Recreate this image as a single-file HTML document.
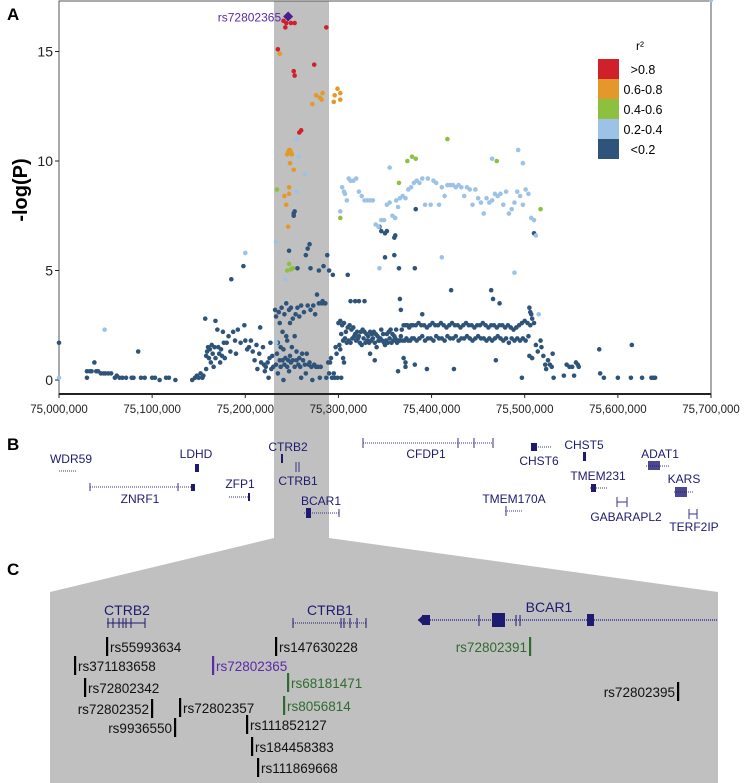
<!DOCTYPE html>
<html><head><meta charset="utf-8"><style>
html,body{margin:0;padding:0;background:#fff;}
svg{display:block;font-family:"Liberation Sans",Arial,sans-serif;}
</style></head><body>
<svg id="fig" width="744" height="783" viewBox="0 0 744 783">
  <polygon points="274,1 329,1 329,538 718,592 718,783 50,783 50,592 274,538" fill="#c0c0c0"/>
  <g id="plotA"></g>
  <text x="7" y="20" font-size="17" font-weight="bold">A</text>
  <text x="7" y="450" font-size="17" font-weight="bold">B</text>
  <text x="7" y="575" font-size="17" font-weight="bold">C</text>
  <text transform="translate(27,190) rotate(-90)" text-anchor="middle" font-size="20" font-weight="bold">-log(P)</text>

  <g font-size="12.5">
    <text x="640" y="50" text-anchor="middle" font-size="12">r²</text>
    <rect x="598" y="59" width="21" height="20" fill="#d0202a"/>
    <rect x="598" y="79" width="21" height="20" fill="#e4982a"/>
    <rect x="598" y="99" width="21" height="20" fill="#8dc03f"/>
    <rect x="598" y="119" width="21" height="20" fill="#9cc3e6"/>
    <rect x="598" y="139" width="21" height="20" fill="#2f5479"/>
    <text x="643" y="74" text-anchor="middle">&gt;0.8</text>
    <text x="643" y="94" text-anchor="middle">0.6-0.8</text>
    <text x="643" y="114" text-anchor="middle">0.4-0.6</text>
    <text x="643" y="134" text-anchor="middle">0.2-0.4</text>
    <text x="643" y="154" text-anchor="middle">&lt;0.2</text>
  </g>

  <g fill="#1e1a70" stroke="#3a358a" font-size="12">
    <g><line x1="59" y1="471" x2="76" y2="471" stroke-dasharray="1,1"/><text x="71" y="463" text-anchor="middle" stroke="none">WDR59</text></g>
    <g><rect x="195" y="464" width="4" height="8" stroke="none"/><text x="196" y="458" text-anchor="middle" stroke="none">LDHD</text></g>
    <g><line x1="90" y1="487" x2="194" y2="487" stroke-dasharray="1,1"/><line x1="90" y1="483" x2="90" y2="491"/><line x1="178" y1="483" x2="178" y2="491"/><rect x="191" y="484" width="4" height="7" stroke="none"/><text x="140" y="503" text-anchor="middle" stroke="none">ZNRF1</text></g>
    <g><line x1="229" y1="497" x2="250" y2="497" stroke-dasharray="1,1"/><rect x="248" y="493" width="2" height="8" stroke="none"/><text x="240" y="488" text-anchor="middle" stroke="none">ZFP1</text></g>
    <g><rect x="281" y="454" width="2" height="9" stroke="none"/><text x="288" y="451" text-anchor="middle" stroke="none">CTRB2</text></g>
    <g><line x1="296" y1="462" x2="296" y2="472"/><line x1="299" y1="462" x2="299" y2="472"/><text x="298" y="485" text-anchor="middle" stroke="none">CTRB1</text></g>
    <g><line x1="304" y1="513" x2="339" y2="513" stroke-dasharray="1,1"/><rect x="306" y="508" width="5" height="10" stroke="none"/><line x1="339" y1="509" x2="339" y2="517"/><text x="321" y="505" text-anchor="middle" stroke="none">BCAR1</text></g>
    <g><line x1="363" y1="443" x2="493" y2="443" stroke-dasharray="1,1"/><line x1="363" y1="438" x2="363" y2="448"/><line x1="458" y1="438" x2="458" y2="448"/><line x1="474" y1="438" x2="474" y2="448"/><line x1="493" y1="438" x2="493" y2="448"/><text x="426" y="458" text-anchor="middle" stroke="none">CFDP1</text></g>
    <g><line x1="532" y1="447" x2="551" y2="447" stroke-dasharray="1,1"/><rect x="531" y="443" width="6" height="8" stroke="none"/><text x="539" y="465" text-anchor="middle" stroke="none">CHST6</text></g>
    <g><rect x="583" y="452" width="3" height="9" stroke="none"/><text x="584" y="449" text-anchor="middle" stroke="none">CHST5</text></g>
    <g><line x1="646" y1="466" x2="670" y2="466" stroke-dasharray="1,1"/><rect x="648" y="461" width="12" height="9" stroke="none" opacity="0.8"/><text x="660" y="458" text-anchor="middle" stroke="none">ADAT1</text></g>
    <g><line x1="590" y1="488" x2="607" y2="488" stroke-dasharray="1,1"/><rect x="591" y="484" width="5" height="8" stroke="none"/><text x="598" y="480" text-anchor="middle" stroke="none">TMEM231</text></g>
    <g><line x1="674" y1="492" x2="693" y2="492" stroke-dasharray="1,1"/><rect x="675" y="487" width="12" height="10" stroke="none" opacity="0.8"/><text x="684" y="483" text-anchor="middle" stroke="none">KARS</text></g>
    <g><line x1="505" y1="511" x2="523" y2="511" stroke-dasharray="1,1"/><line x1="506" y1="506" x2="506" y2="516"/><text x="514" y="503" text-anchor="middle" stroke="none">TMEM170A</text></g>
    <g><line x1="617" y1="502" x2="627" y2="502"/><line x1="617" y1="497" x2="617" y2="507"/><line x1="627" y1="497" x2="627" y2="507"/><text x="626" y="521" text-anchor="middle" stroke="none">GABARAPL2</text></g>
    <g><line x1="689" y1="514" x2="697" y2="514"/><line x1="689" y1="509" x2="689" y2="519"/><line x1="697" y1="509" x2="697" y2="519"/><text x="694" y="531" text-anchor="middle" stroke="none">TERF2IP</text></g>
  </g>

  <g fill="#1e1a70" stroke="#1e1a70">
    <g><text x="127" y="615" font-size="14" text-anchor="middle" stroke="none">CTRB2</text><line x1="107" y1="623" x2="145" y2="623" stroke-width="1"/>
      <line x1="108" y1="618" x2="108" y2="628"/><line x1="113" y1="618" x2="113" y2="628"/><line x1="119" y1="618" x2="119" y2="628"/><line x1="123" y1="618" x2="123" y2="628"/><line x1="126" y1="618" x2="126" y2="628"/><line x1="131" y1="618" x2="131" y2="628"/><line x1="145" y1="618" x2="145" y2="628"/></g>
    <g><text x="330" y="615" font-size="14" text-anchor="middle" stroke="none">CTRB1</text><line x1="293" y1="623" x2="366" y2="623" stroke-dasharray="1,1"/>
      <line x1="293" y1="618" x2="293" y2="628"/><line x1="341" y1="618" x2="341" y2="628"/><line x1="344" y1="618" x2="344" y2="628"/><line x1="350" y1="618" x2="350" y2="628"/><line x1="357" y1="618" x2="357" y2="628"/><line x1="366" y1="618" x2="366" y2="628"/></g>
    <g><text x="549" y="612" font-size="14" text-anchor="middle" stroke="none">BCAR1</text><line x1="418" y1="620" x2="718" y2="620" stroke="#5a56a0" stroke-dasharray="1,1" stroke-width="2"/>
      <rect x="422" y="615" width="8" height="10" stroke="none"/><polygon points="418,620 423,615 423,625" stroke="none"/><line x1="479" y1="615" x2="479" y2="626"/><rect x="492" y="613" width="13" height="14" stroke="none"/><line x1="516" y1="615" x2="516" y2="626"/><line x1="520" y1="615" x2="520" y2="626"/><rect x="587" y="614" width="7" height="12" stroke="none"/></g>
  </g>
  <g id="snps" font-size="14"></g>
</svg>
<script>
const xTicks = [0,100,200,300,400,500,600,700];
const xTickLabels = ["75,000,000","75,100,000","75,200,000","75,300,000","75,400,000","75,500,000","75,600,000","75,700,000"];
const yTicks = [0,5,10,15];
const leadPos = [246];
const leadVal = [16.6];
const redPos = [241,244,249,253,243,287,235,274,252,253,260,258];
const redVal = [16.4,16.3,16.3,16.3,16.1,16.1,15.1,14.4,14.1,13.9,11.4,11.3];
const orangePos = [237,276,280,282,283,272,296,299,302,295,302,245,246,247,248,249,250,248,252,247,242,247,244,246];
const orangeVal = [14.9,13.0,12.9,12.8,13.1,12.6,13.0,13.3,13.1,12.7,12.8,10.3,10.4,10.5,10.5,10.4,10.3,9.9,9.6,8.8,8.4,8.5,8.0,7.0];
const greenPos = [417,379,374,383,470,365,234,302,517,247,245,251,249];
const greenVal = [11.0,10.2,10.0,10.1,10.0,9.0,8.7,7.4,7.8,5.3,5.0,5.1,5.05];
const lightPos = [255,257,264,255,233,243,200,49,493,498,465,355,302,304,306,307,309,311,313,316,319,322,325,328,331,334,337,340,343,346,349,352,355,358,361,362,364,366,369,372,375,378,381,384,387,390,393,396,399,402,405,408,411,414,417,420,423,426,429,432,435,438,441,444,447,450,453,456,459,462,465,468,471,474,477,480,483,486,489,492,495,498,501,504,507,510,512,411,344,489,515,233,0,700];
const lightVal = [11.0,10.2,9.4,8.6,6.3,4.6,5.8,2.3,10.5,9.9,10.1,9.7,7.7,8.8,8.6,8.5,8.2,9.2,9.1,9.1,9.2,8.6,8.4,8.2,8.2,8.2,8.2,7.1,7.0,7.3,7.3,8.0,8.1,7.5,7.4,8.2,7.9,8.3,8.4,8.3,8.7,8.8,9.0,9.1,9.0,9.2,8.0,9.2,8.0,9.1,9.0,8.0,8.8,8.4,8.9,8.9,8.9,8.8,8.9,8.8,8.4,8.8,8.7,8.0,8.7,8.3,8.1,7.6,8.3,8.1,8.2,8.5,8.4,8.5,8.0,8.6,7.6,7.8,8.1,8.6,8.4,8.0,8.7,8.5,7.4,7.3,6.6,5.6,5.1,4.9,3.0,1.7,0.1];
const darkPos = [0,30,30,33,35,38,40,42,45,48,50,53,56,60,62,65,68,72,78,80,85,88,92,100,103,108,115,118,125,143,146,148,150,152,154,155,157,158,158,159,160,161,162,163,164,165,166,167,168,168,170,171,172,173,174,175,176,177,178,180,182,184,185,187,189,190,192,195,198,199,200,202,204,206,208,210,212,213,215,216,217,219,220,221,222,224,225,226,227,228,229,230,
232,233,233,234,235,235,236,237,237,238,238,239,240,240,241,241,242,242,243,244,244,245,245,246,247,247,247,248,248,249,249,250,251,251,252,252,253,253,253,254,255,255,256,256,257,258,258,259,260,260,261,262,263,264,265,265,266,267,267,268,269,269,270,270,271,272,273,274,275,276,277,278,279,279,280,281,282,283,284,285,286,287,288,289,290,290,291,292,293,294,295,296,297,298,299,
300,302,304,306,308,310,312,314,316,318,320,322,324,326,328,330,332,334,336,338,340,342,344,346,348,350,352,354,356,358,360,362,364,366,368,370,372,374,376,378,
301,303,305,307,309,311,313,315,317,319,321,323,325,327,329,331,333,335,337,339,341,343,345,347,349,351,353,355,357,359,361,363,365,367,369,371,373,375,377,379,
380,383,386,389,392,395,398,401,404,407,410,413,416,419,422,425,428,431,434,437,440,443,446,449,452,455,458,461,464,467,470,473,476,479,482,485,488,491,494,497,500,503,506,
381,384,387,390,393,396,399,402,405,408,411,414,417,420,423,426,429,432,435,438,441,444,447,450,453,456,459,462,465,468,471,474,477,480,483,486,489,492,495,498,501,504,
302,305,306,303,310,313,318,322,328,334,339,344,346,350,352,360,350,360,365,366,367,370,372,372,364,382,390,395,421,424,464,466,473,469,497,505,506,507,508,510,512,514,505,508,510,383,382,361,517,518,520,522,523,525,527,529,530,531,542,545,548,551,553,555,557,558,580,581,585,600,614,615,626,636,638,640];
const darkVal = [1.7,0.1,0.4,0.4,0.4,0.8,0.4,0.4,0.3,0.3,0.3,0.3,0.3,0.1,0.2,0.1,0.1,0.1,0.1,0.1,1.3,0.1,0.1,0.1,0.1,0.0,0.1,0.1,0.0,0.0,0.1,0.2,0.1,0.3,0.1,0.2,2.8,0.5,1.1,1.3,1.5,1.0,1.4,0.8,1.6,1.2,0.6,1.5,1.0,2.7,2.3,1.5,1.2,0.8,1.4,1.1,2.2,1.7,1.0,1.7,2.0,1.3,4.6,2.2,1.8,1.2,2.3,1.7,5.2,2.5,1.8,1.4,1.5,1.8,1.3,0.9,1.6,0.5,1.2,2.4,0.8,1.5,0.7,0.4,0.6,0.8,0.1,1.0,1.7,0.5,1.1,0.6,
3.2,2.9,0.7,1.2,0.3,1.7,3.1,0.9,2.6,0.6,1.5,3.3,0.9,2.2,0.0,1.4,0.7,3.0,1.0,3.5,2.0,0.6,1.8,0.9,5.9,3.2,0.4,2.6,1.1,0.8,3.3,1.5,0.9,2.8,7.5,7.6,7.7,0.6,2.0,3.0,0.9,1.3,5.1,3.3,0.7,2.9,1.0,0.6,3.4,0.1,1.2,0.9,3.1,0.7,5.7,0.3,1.2,6.0,3.4,0.7,6.2,0.8,3.2,5.1,0.6,0.0,3.4,0.7,3.0,0.6,3.9,0.6,3.5,5.0,0.1,0.6,3.5,3.6,5.2,3.5,3.5,0.1,5.7,0.8,5.0,0.3,0.8,1.0,0.1,4.8,0.3,0.1,1.5,1.2,0.1,
2.6,2.7,2.5,2.6,2.2,2.4,2.5,2.3,2.4,2.1,2.2,2.0,2.2,2.3,2.2,2.1,2.0,2.2,2.1,2.2,2.1,2.0,1.8,2.3,2.1,1.6,2.1,2.2,2.3,2.1,2.0,2.3,1.8,1.8,2.3,2.5,2.5,2.5,2.4,2.5,
1.6,2.1,1.8,1.9,1.7,1.8,1.7,1.9,2.0,1.8,1.9,1.7,1.6,1.9,1.7,1.8,1.7,1.8,1.9,1.7,1.5,1.8,1.9,1.8,1.7,1.8,1.7,1.9,1.7,1.8,1.9,1.7,1.8,2.0,1.8,1.8,1.9,1.8,1.8,1.9,
2.5,2.5,2.6,2.5,2.5,2.4,2.5,2.6,2.5,2.5,2.6,2.5,2.4,2.5,2.6,2.5,2.5,2.4,2.5,2.6,2.5,2.5,2.4,2.5,2.5,2.6,2.5,2.4,2.5,2.5,2.4,2.5,2.5,2.4,2.5,2.4,2.3,2.4,2.5,2.6,2.7,2.6,2.5,
1.9,1.8,1.9,2.0,1.8,1.9,1.9,1.8,2.0,1.9,1.9,1.8,2.0,1.9,1.9,2.0,1.8,1.9,1.9,2.0,1.9,1.8,1.9,2.0,1.9,1.9,1.8,1.9,1.8,1.9,2.0,1.9,1.8,1.9,1.7,1.9,1.8,1.9,1.8,1.9,1.8,2.0,
1.4,1.0,0.8,0.1,4.8,3.6,3.6,3.6,3.6,1.2,0.9,7.0,6.8,6.7,6.8,6.5,5.6,5.7,5.1,3.7,3.2,1.0,0.8,0.6,0.4,0.7,3.0,0.5,4.1,0.5,4.1,3.7,3.5,0.9,0.1,3.3,3.1,3.0,2.8,2.6,1.6,1.3,1.1,1.0,6.7,7.8,5.1,6.6,1.8,1.5,1.1,0.7,0.5,0.9,0.7,0.6,1.2,0.1,0.2,0.7,0.6,0.6,0.2,0.8,0.7,0.6,1.4,0.3,0.1,0.1,0.1,1.6,0.1,0.1,0.1,0.1];

const NS = "http://www.w3.org/2000/svg";
const X0 = 59, X1 = 711, Y0 = 380, YUNIT = 21.9;
function xScale(kb){ return X0 + kb * (X1 - X0) / 700; }
function yScale(v){ return Y0 - v * YUNIT; }
function mk(tag, attrs, parent){ const e = document.createElementNS(NS, tag); for (const k in attrs) e.setAttribute(k, attrs[k]); parent.appendChild(e); return e; }

const g = document.getElementById('plotA');
const frame = mk('rect', {x:X0, y:1, width:X1-X0, height:393, fill:'none', stroke:'#555', 'stroke-width':1}, g);


const xaxis = mk('line', {x1:X0, y1:394, x2:X1, y2:394, stroke:'#222', 'stroke-width':2}, g);


xTicks.forEach((t, i) => {
  const tk = mk('line', {x1:xScale(t), y1:394, x2:xScale(t), y2:398, stroke:'#222'}, g);
  
  
  const lb = mk('text', {x:xScale(t), y:413, 'font-size':11.5, 'text-anchor':'middle', fill:'#222'}, g);
  lb.textContent = xTickLabels[i];
  
  
});
yTicks.forEach(t => {
  const tk = mk('line', {x1:X0-4, y1:yScale(t), x2:X0, y2:yScale(t), stroke:'#222'}, g);
  
  
  const lb = mk('text', {x:X0-6, y:yScale(t)+5, 'font-size':14, 'text-anchor':'end', fill:'#222'}, g);
  lb.textContent = String(t);
  
  
});
function series(pos, val, color, name){
  const sg = mk('g', {fill:color}, g);
  
  
  for (let i = 0; i < pos.length; i++){
    const c = mk('circle', {cx:xScale(pos[i]), cy:yScale(val[i]), r:2.3}, sg);
    
    
  }
}
series(darkPos, darkVal, '#2f5479', 'series-r2-below-0.2');
series(lightPos, lightVal, '#9cc3e6', 'series-r2-0.2-0.4');
series(greenPos, greenVal, '#8dc03f', 'series-r2-0.4-0.6');
series(orangePos, orangeVal, '#e4982a', 'series-r2-0.6-0.8');
series(redPos, redVal, '#d0202a', 'series-r2-above-0.8');
leadPos.forEach((p, i) => {
  const cx = xScale(p), cy = yScale(leadVal[i]);
  const d = mk('polygon', {points:`${cx},${cy-5} ${cx+5},${cy} ${cx},${cy+5} ${cx-5},${cy}`, fill:'#4b1d8f'}, g);
  
  
  const t = mk('text', {x:cx-7, y:cy+5, 'font-size':12, 'text-anchor':'end', fill:'#5a2aa8'}, g);
  t.textContent = 'rs72802365';
  
  
});

const snpNames = ["rs55993634","rs371183658","rs72802342","rs72802352","rs9936550","rs72802357","rs147630228","rs72802365","rs68181471","rs8056814","rs111852127","rs184458383","rs111869668","rs72802391","rs72802395"];
const snpBarX = [107,75,85,152,175,180,276,213,288,284,247,252,258,530,678];
const snpTop = [637,656,678,699,718,698,637,656,673,696,715,737,758,637,682];
const snpSide = ["r","r","r","l","l","r","r","r","r","r","r","r","r","l","l"];
const snpColor = ["#000","#000","#000","#000","#000","#000","#000","#5a2aa8","#2f6b2f","#2f6b2f","#000","#000","#000","#2f6b2f","#000"];
const sg = document.getElementById('snps');
snpNames.forEach((n, i) => {
  const b = mk('rect', {x:snpBarX[i]-1, y:snpTop[i], width:2.2, height:19, fill:snpColor[i]}, sg);
  
  
  const right = snpSide[i] === 'r';
  const t = mk('text', {x: right ? snpBarX[i]+3 : snpBarX[i]-3, y:snpTop[i]+15, 'text-anchor': right ? 'start' : 'end', fill: snpColor[i] === '#000' ? '#111' : snpColor[i], 'font-size':13.5}, sg);
  t.textContent = n;
  
  
});
</script>
</body></html>
